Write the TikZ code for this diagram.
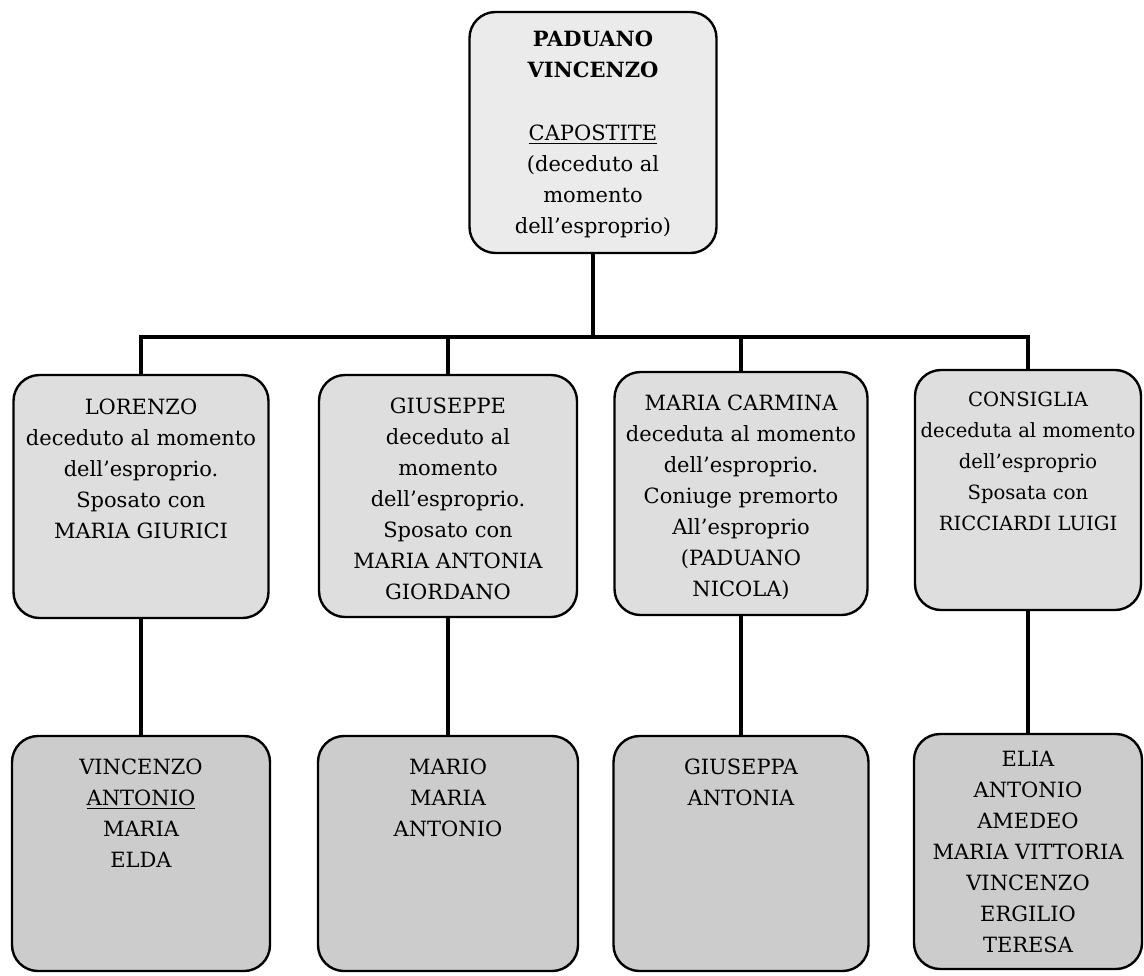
\documentclass[tikz,border=0pt]{standalone}
\usepackage{fontspec}
\setmainfont{DejaVu Serif}
\usetikzlibrary{positioning}

\begin{document}
\begin{tikzpicture}[x=0.5pt,y=-0.5pt]
        \useasboundingbox (0,0) rectangle (1144,975);
        \begin{scope}[
            every node/.style={draw=black,line width=1.2pt,rounded corners=13pt,inner sep=0pt}
        ]
            \node[fill=black!8,minimum width=123.5pt,minimum height=120.5pt] (padre) at (593,132.5) {};

            \node[fill=black!13,minimum width=127.5pt,minimum height=121.5pt] (lorenzo) at (141,496.5) {};
            \node[fill=black!13,minimum width=129pt,minimum height=121pt] (giuseppe) at (448,496) {};
            \node[fill=black!13,minimum width=126.5pt,minimum height=121.5pt] (carmina) at (741,493.5) {};
            \node[fill=black!13,minimum width=113pt,minimum height=120pt] (consiglia) at (1028,490) {};

            \node[fill=black!20,minimum width=129pt,minimum height=117.5pt] (f-lorenzo) at (141,853.5) {};
            \node[fill=black!20,minimum width=130pt,minimum height=117.5pt] (f-giuseppe) at (448,853.5) {};
            \node[fill=black!20,minimum width=127.5pt,minimum height=117.5pt] (f-carmina) at (741,853.5) {};
            \node[fill=black!20,minimum width=114pt,minimum height=117.5pt] (f-consiglia) at (1028,851.5) {};
        \end{scope}
        \begin{scope}[
            every node/.style={align=center,inner sep=0pt,font=\fontsize{10.5}{15.5}\selectfont}
        ]
            \node[below=10pt of padre.north] (t-padre) {\textbf{PADUANO}\\\textbf{VINCENZO}\\[16pt]\underline{CAPOSTITE}\\(deceduto al\\momento\\dell’esproprio)};

            \node[below=12.3pt of lorenzo.north] (t-lorenzo) {LORENZO\\deceduto al momento\\dell’esproprio.\\Sposato con\\MARIA GIURICI};
            \node[below=11.8pt of giuseppe.north] (t-giuseppe) {GIUSEPPE\\deceduto al\\momento\\dell’esproprio.\\Sposato con\\MARIA ANTONIA\\GIORDANO};
            \node[below=11.8pt of carmina.north] (t-carmina) {MARIA CARMINA\\deceduta al momento\\dell’esproprio.\\Coniuge premorto\\All’esproprio\\(PADUANO\\NICOLA)};
            \node[below=11.5pt of consiglia.north,font=\fontsize{9.8}{15.5}\selectfont] (t-consiglia) {CONSIGLIA\\deceduta al momento\\dell’esproprio\\Sposata con\\RICCIARDI LUIGI};

            \node[below=11.8pt of f-lorenzo.north] (t-f-lorenzo) {VINCENZO\\\underline{ANTONIO}\\MARIA\\ELDA};
            \node[below=11.8pt of f-giuseppe.north] (t-f-giuseppe) {MARIO\\MARIA\\ANTONIO};
            \node[below=11.8pt of f-carmina.north] (t-f-carmina) {GIUSEPPA\\ANTONIA};
            \node[below=9pt of f-consiglia.north] (t-f-consiglia) {ELIA\\ANTONIO\\AMEDEO\\MARIA VITTORIA\\VINCENZO\\ERGILIO\\TERESA};
        \end{scope}
        \begin{scope}[
            every edge/.style={draw=black,line width=2.3pt}
        ]
            \coordinate (sbarra) at (0,337);
            \draw[line width=2.3pt] (lorenzo.north) |- (consiglia.north |- sbarra) -- (consiglia.north);
            \path [-] (padre.south) edge (padre.south |- sbarra);
            \path [-] (giuseppe.north) edge (giuseppe.north |- sbarra);
            \path [-] (carmina.north) edge (carmina.north |- sbarra);

            \path [-] (lorenzo.south) edge (f-lorenzo.north);
            \path [-] (giuseppe.south) edge (f-giuseppe.north);
            \path [-] (carmina.south) edge (f-carmina.north);
            \path [-] (consiglia.south) edge (f-consiglia.north);
        \end{scope}
    \end{tikzpicture}
\end{document}
